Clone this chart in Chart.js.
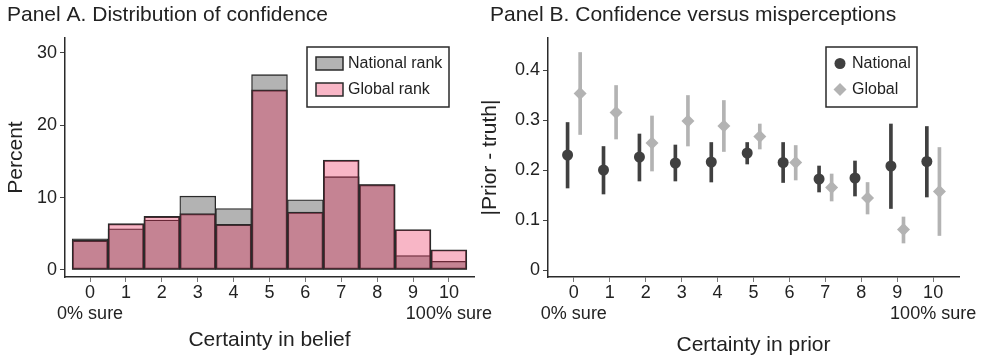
<!DOCTYPE html>
<html>
<head>
<meta charset="utf-8">
<script src="https://cdn.jsdelivr.net/npm/chart.js@4.4.1/dist/chart.umd.min.js"></script>
<style>
  html, body { margin: 0; padding: 0; background: #fff; }
  body { width: 984px; height: 361px; position: relative; overflow: hidden; }
  canvas { position: absolute; top: 0; }
  #panelA { left: 0; }
  #panelB { left: 478px; }
</style>
</head>
<body>
<canvas id="panelA" width="500" height="361"></canvas>
<canvas id="panelB" width="506" height="361"></canvas>
<script>
// Certainty scale 0..10 (shared by both panels)
const certainty = [0, 1, 2, 3, 4, 5, 6, 7, 8, 9, 10];
const tickNotes = ['0% sure', '', '', '', '', '', '', '', '', '', '100% sure'];

// Panel A: distribution of confidence (percent)
const percentTicks = [0, 10, 20, 30];
const nationalPct = [4.3, 5.7, 6.9, 10.2, 8.5, 27.0, 9.7, 12.9, 11.8, 2.0, 1.2];
const globalPct   = [4.1, 6.4, 7.4, 7.8, 6.3, 24.9, 8.0, 15.2, 11.8, 5.6, 2.8];

// Panel B: |prior - truth| by certainty, with 95% intervals
const gapTicks = [0, 0.1, 0.2, 0.3, 0.4];
const nationalMean = [0.230, 0.200, 0.226, 0.214, 0.216, 0.234, 0.215, 0.182, 0.184, 0.208, 0.217];
const nationalLo   = [0.164, 0.152, 0.178, 0.178, 0.176, 0.212, 0.175, 0.156, 0.148, 0.123, 0.146];
const nationalHi   = [0.295, 0.247, 0.272, 0.250, 0.255, 0.255, 0.255, 0.208, 0.218, 0.292, 0.287];
const globalMean   = [0.353, 0.315, 0.254, 0.298, 0.288, 0.267, 0.215, 0.165, 0.144, 0.081, 0.157];
const globalLo     = [0.271, 0.262, 0.198, 0.248, 0.237, 0.242, 0.180, 0.138, 0.112, 0.054, 0.069];
const globalHi     = [0.435, 0.369, 0.308, 0.349, 0.339, 0.292, 0.249, 0.192, 0.175, 0.106, 0.245];

const INK = '#222';
const EDGE = '#2a2a2a';
const GRAY = '#b3b3b3';
const PINK = 'rgba(234, 34, 82, 0.33)';
const DARK = '#404040';
const LIGHT = '#b3b3b3';
const SHIFT = 0.175;

Chart.defaults.font.family = '"Liberation Sans", Arial, Helvetica, sans-serif';
Chart.defaults.color = INK;

// legend drawn inside the plot, stata style
const boxLegend = {
    id: 'boxLegend',
    afterDraw(chart, args, opts) {
        const ctx = chart.ctx;
        ctx.save();
        ctx.fillStyle = '#fff';
        ctx.fillRect(opts.x, opts.y, opts.w, opts.h);
        ctx.strokeStyle = EDGE;
        ctx.lineWidth = 1.5;
        ctx.strokeRect(opts.x, opts.y, opts.w, opts.h);
        ctx.font = opts.fontSize + 'px ' + Chart.defaults.font.family;
        ctx.textBaseline = 'middle';
        opts.items.forEach((idx, i) => {
            const ds = chart.data.datasets[idx];
            const cy = opts.y + opts.firstRow + i * opts.rowGap;
            if (opts.kind === 'swatch') {
                ctx.fillStyle = '#fff';
                ctx.fillRect(opts.markX, cy - 6.5, 27, 13);
                ctx.fillStyle = ds.backgroundColor;
                ctx.fillRect(opts.markX, cy - 6.5, 27, 13);
                ctx.strokeStyle = EDGE;
                ctx.lineWidth = 1.5;
                ctx.strokeRect(opts.markX, cy - 6.5, 27, 13);
            } else {
                ctx.fillStyle = ds.backgroundColor;
                Chart.helpers.drawPoint(ctx, {
                    pointStyle: ds.pointStyle, radius: ds.pointRadius, rotation: 0, borderWidth: 0
                }, opts.markX, cy);
            }
            ctx.fillStyle = INK;
            ctx.fillText(ds.label, opts.textX, cy);
        });
        ctx.restore();
    }
};

function fixTicks(values) {
    return scale => { scale.ticks = values.map(v => ({ value: v })); };
}

function axisX(min, max, title, titlePad) {
    return {
        type: 'linear', min, max, offset: false,
        afterBuildTicks: fixTicks(certainty),
        afterFit: s => { s.height = 84; },
        grid: { offset: false, drawOnChartArea: false, drawTicks: true, tickLength: 5, tickColor: '#777', tickWidth: 1 },
        border: { color: EDGE, width: 1.5 },
        ticks: {
            font: { size: 18 }, padding: 0, maxRotation: 0, autoSkip: false,
            callback: v => tickNotes[v] ? [String(v), tickNotes[v]] : String(v)
        },
        title: { display: true, text: title, font: { size: 21 }, padding: { top: 0, bottom: titlePad } }
    };
}

function axisY(min, max, values, title, titlePad) {
    return {
        type: 'linear', min, max,
        afterBuildTicks: fixTicks(values),
        afterFit: s => { s.width = 58; },
        grid: { drawOnChartArea: false, drawTicks: true, tickLength: 5, tickColor: '#444', tickWidth: 1 },
        border: { color: EDGE, width: 1.5 },
        ticks: { font: { size: 18 }, padding: 3, callback: v => String(v) },
        title: { display: true, text: title, font: { size: 21 }, padding: { top: titlePad, bottom: 0 } }
    };
}

function panelTitle(text) {
    return {
        display: true, text, align: 'start', color: INK,
        font: { size: 21, weight: 'normal' },
        padding: { top: 3, bottom: 9.8 }
    };
}

// Panel A
new Chart(document.getElementById('panelA'), {
    type: 'bar',
    data: {
        datasets: [
            {
                label: 'Global rank',
                data: certainty.map((c, i) => ({ x: c, y: globalPct[i] })),
                backgroundColor: PINK, borderColor: EDGE, borderWidth: 1.3, borderSkipped: false,
                order: 1
            },
            {
                label: 'National rank',
                data: certainty.map((c, i) => ({ x: c, y: nationalPct[i] })),
                backgroundColor: GRAY, borderColor: EDGE, borderWidth: 1.3, borderSkipped: false,
                order: 2
            }
        ]
    },
    options: {
        responsive: false,
        animation: false,
        layout: { padding: { left: 7, right: 26, top: 0, bottom: 0 } },
        datasets: { bar: { grouped: false, categoryPercentage: 1, barPercentage: 1 } },
        plugins: {
            legend: { display: false },
            tooltip: { enabled: false },
            title: panelTitle('Panel A. Distribution of confidence'),
            boxLegend: {
                kind: 'swatch', items: [1, 0], fontSize: 16,
                x: 307, y: 47, w: 142, h: 60,
                firstRow: 16.5, rowGap: 26, markX: 316, textX: 348
            }
        },
        scales: {
            x: axisX(-0.7, 10.7, 'Certainty in belief', 8.4),
            y: axisY(-0.97, 32.07, percentTicks, 'Percent', -3.6)
        }
    },
    plugins: [boxLegend]
});

// Panel B
new Chart(document.getElementById('panelB'), {
    type: 'scatter',
    data: {
        datasets: [
            {
                label: 'National',
                data: certainty.map((c, i) => ({ x: c - SHIFT, y: nationalMean[i] })),
                pointStyle: 'circle', pointRadius: 5.5, backgroundColor: DARK, borderWidth: 0,
                order: 1
            },
            {
                label: 'Global',
                data: certainty.map((c, i) => ({ x: c + SHIFT, y: globalMean[i] })),
                pointStyle: 'rectRot', pointRadius: 6.5, backgroundColor: LIGHT, borderWidth: 0,
                order: 1
            },
            {
                type: 'bar', label: 'National CI',
                data: certainty.map((c, i) => ({ x: c - SHIFT, y: [nationalLo[i], nationalHi[i]] })),
                backgroundColor: DARK, barThickness: 3, grouped: false, order: 2
            },
            {
                type: 'bar', label: 'Global CI',
                data: certainty.map((c, i) => ({ x: c + SHIFT, y: [globalLo[i], globalHi[i]] })),
                backgroundColor: LIGHT, barThickness: 3, grouped: false, order: 2
            }
        ]
    },
    options: {
        responsive: false,
        animation: false,
        layout: { padding: { left: 12, right: 25, top: 0, bottom: 0 } },
        plugins: {
            legend: { display: false },
            tooltip: { enabled: false },
            title: panelTitle('Panel B. Confidence versus misperceptions'),
            boxLegend: {
                kind: 'point', items: [0, 1], fontSize: 16,
                x: 348, y: 47, w: 91, h: 60,
                firstRow: 16.5, rowGap: 26, markX: 362, textX: 374
            }
        },
        scales: {
            x: axisX(-0.72, 10.72, 'Certainty in prior', 3.4),
            y: axisY(-0.014, 0.464, gapTicks, '|Prior - truth|', -12.6)
        }
    },
    plugins: [boxLegend]
});
</script>
</body>
</html>
